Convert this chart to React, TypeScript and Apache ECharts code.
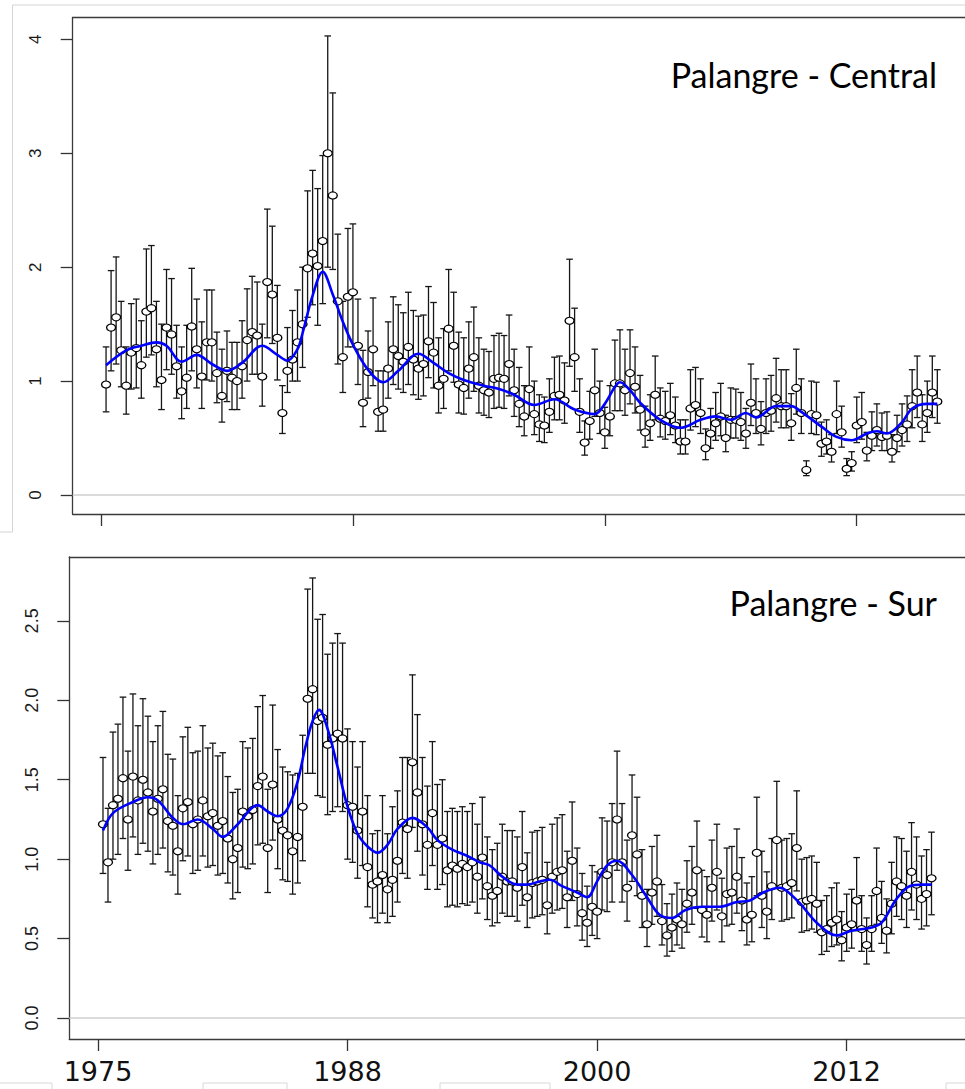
import React, { useEffect, useRef } from 'react';
import * as echarts from 'echarts';

// Axis ticks: quarter index (0 = 1975)
const xTickIndex = [0, 50, 100, 150];
const xTickLabels = ['1975', '1988', '2000', '2012'];
const topYTicks = [0, 1, 2, 3, 4];
const botYTicks = [0, 0.5, 1, 1.5, 2, 2.5];

const topTitle = 'Palangre - Central';
const botTitle = 'Palangre - Sur';

// ---------- Palangre - Central (index 1..166) ----------
const topVal = [
  0.97, 1.47, 1.56, 1.27, 0.96, 1.25, 1.29, 1.14, 1.61, 1.64,
  1.28, 1.01, 1.47, 1.41, 1.13, 0.91, 1.03, 1.48, 1.28, 1.04,
  1.34, 1.34, 1.07, 0.87, 1.09, 1.03, 1.00, 1.13, 1.36, 1.43,
  1.40, 1.04, 1.87, 1.76, 1.38, 0.72, 1.09, 1.19, 1.34, 1.50,
  1.99, 2.12, 2.01, 2.23, 3.00, 2.63, 1.70, 1.21, 1.74, 1.78,
  1.31, 0.81, 1.08, 1.28, 0.73, 0.75, 1.11, 1.28, 1.22, 1.17,
  1.30, 1.19, 1.11, 1.15, 1.35, 1.25, 0.96, 1.02, 1.46, 1.31,
  0.97, 0.94, 1.11, 1.21, 0.96, 0.92, 0.90, 1.02, 1.03, 1.02,
  1.15, 0.92, 0.80, 0.69, 0.93, 0.71, 0.62, 0.61, 0.73, 0.87,
  0.88, 0.83, 1.53, 1.21, 0.73, 0.46, 0.65, 0.92, 0.72, 0.55,
  0.69, 0.98, 0.98, 0.92, 1.07, 0.95, 0.75, 0.55, 0.63, 0.88,
  0.67, 0.65, 0.70, 0.61, 0.47, 0.47, 0.76, 0.79, 0.72, 0.41,
  0.54, 0.63, 0.69, 0.50, 0.66, 0.66, 0.64, 0.54, 0.81, 0.72,
  0.58, 0.72, 0.74, 0.85, 0.78, 0.78, 0.63, 0.94, 0.72, 0.22,
  0.71, 0.70, 0.45, 0.47, 0.38, 0.71, 0.55, 0.23, 0.28, 0.61,
  0.64, 0.39, 0.52, 0.57, 0.51, 0.52, 0.38, 0.50, 0.57, 0.62,
  0.78, 0.90, 0.62, 0.72, 0.90, 0.82,
];
const topHi = [
  1.30, 1.97, 2.09, 1.70, 1.30, 1.68, 1.72, 1.53, 2.16, 2.19,
  1.70, 1.50, 1.98, 1.90, 1.49, 1.30, 1.49, 1.99, 1.72, 1.52,
  1.80, 1.80, 1.43, 1.28, 1.44, 1.34, 1.34, 1.53, 1.81, 1.92,
  1.87, 1.50, 2.51, 2.36, 1.84, 0.96, 1.47, 1.62, 1.80, 2.00,
  2.67, 2.85, 2.69, 2.98, 4.03, 3.53, 2.29, 1.70, 2.34, 2.38,
  1.72, 1.27, 1.44, 1.73, 1.09, 1.09, 1.52, 1.74, 1.67, 1.60,
  1.78, 1.62, 1.57, 1.58, 1.83, 1.69, 1.38, 1.46, 1.98, 1.78,
  1.43, 1.38, 1.52, 1.65, 1.38, 1.28, 1.26, 1.40, 1.42, 1.40,
  1.58, 1.28, 1.12, 0.96, 1.30, 1.00, 0.88, 0.86, 1.02, 1.21,
  1.22, 1.16, 2.07, 1.64, 1.02, 0.65, 0.91, 1.28, 1.00, 0.77,
  0.96, 1.36, 1.45, 1.28, 1.45, 1.30, 1.05, 0.78, 0.88, 1.22,
  0.94, 0.91, 0.98, 0.86, 0.66, 0.66, 1.10, 1.12, 1.02, 0.58,
  0.76, 0.90, 0.98, 0.70, 0.94, 0.93, 0.90, 0.76, 1.15, 1.02,
  0.82, 1.02, 1.05, 1.20, 1.10, 1.10, 0.89, 1.28, 1.02, 0.30,
  1.00, 0.99, 0.64, 0.66, 0.53, 1.00, 0.78, 0.32, 0.38, 0.86,
  0.90, 0.55, 0.73, 0.80, 0.72, 0.73, 0.53, 0.70, 0.80, 0.87,
  1.10, 1.22, 0.88, 1.00, 1.22, 1.10,
];
const topLo = [
  0.73, 1.09, 1.15, 0.95, 0.71, 0.93, 0.94, 0.85, 1.21, 1.23,
  0.95, 0.75, 1.10, 1.06, 0.85, 0.67, 0.76, 1.09, 0.94, 0.76,
  1.01, 1.00, 0.81, 0.64, 0.82, 0.75, 0.75, 0.85, 1.00, 1.06,
  1.06, 0.78, 1.38, 1.33, 1.01, 0.54, 0.90, 1.00, 1.00, 1.12,
  1.56, 1.67, 1.49, 1.68, 2.00, 1.98, 1.15, 0.90, 1.30, 1.30,
  0.97, 0.60, 0.85, 0.96, 0.56, 0.56, 0.85, 0.97, 0.93, 0.90,
  0.97, 0.88, 0.84, 0.87, 1.03, 0.94, 0.72, 0.76, 1.09, 0.99,
  0.72, 0.71, 0.85, 0.91, 0.72, 0.70, 0.68, 0.76, 0.77, 0.76,
  0.87, 0.69, 0.60, 0.52, 0.70, 0.53, 0.47, 0.46, 0.55, 0.66,
  0.66, 0.63, 1.13, 0.91, 0.55, 0.35, 0.49, 0.69, 0.54, 0.41,
  0.52, 0.74, 0.74, 0.70, 0.80, 0.72, 0.57, 0.42, 0.48, 0.66,
  0.51, 0.49, 0.53, 0.46, 0.36, 0.36, 0.57, 0.60, 0.54, 0.31,
  0.41, 0.48, 0.52, 0.38, 0.50, 0.50, 0.48, 0.41, 0.61, 0.54,
  0.44, 0.54, 0.56, 0.64, 0.59, 0.59, 0.48, 0.71, 0.54, 0.17,
  0.54, 0.53, 0.34, 0.36, 0.29, 0.54, 0.42, 0.17, 0.21, 0.46,
  0.49, 0.30, 0.39, 0.43, 0.39, 0.39, 0.29, 0.38, 0.43, 0.47,
  0.59, 0.68, 0.47, 0.55, 0.68, 0.63,
];
const topTrendX = [1, 5, 8, 11, 13, 16, 19, 22, 25, 28, 32, 35, 37, 39, 40, 42, 44, 46, 48, 50, 53, 56, 59, 63, 66, 69, 72, 76, 79, 82, 86, 90, 94, 98, 100, 102, 103, 105, 107, 111, 115, 119, 122, 125, 128, 130, 134, 137, 139, 143, 146, 149, 152, 154, 156, 159, 161, 164, 166];
const topTrendY = [1.14, 1.27, 1.31, 1.34, 1.31, 1.17, 1.23, 1.15, 1.09, 1.16, 1.31, 1.23, 1.18, 1.28, 1.42, 1.75, 1.96, 1.76, 1.52, 1.32, 1.10, 0.99, 1.09, 1.24, 1.16, 1.07, 1.01, 0.96, 0.93, 0.88, 0.79, 0.84, 0.75, 0.71, 0.80, 0.95, 0.99, 0.92, 0.81, 0.66, 0.59, 0.66, 0.69, 0.66, 0.72, 0.68, 0.78, 0.78, 0.73, 0.60, 0.51, 0.48, 0.54, 0.56, 0.54, 0.64, 0.76, 0.80, 0.80];

// ---------- Palangre - Sur (index 1..167) ----------
const botVal = [
  1.22, 0.98, 1.34, 1.38, 1.51, 1.25, 1.52, 1.37, 1.50, 1.42,
  1.30, 1.38, 1.44, 1.24, 1.21, 1.05, 1.32, 1.36, 1.22, 1.25,
  1.37, 1.27, 1.29, 1.21, 1.24, 1.13, 1.00, 1.07, 1.30, 1.27,
  1.31, 1.46, 1.52, 1.07, 1.47, 1.25, 1.18, 1.15, 1.05, 1.14,
  1.33, 2.01, 2.07, 1.87, 1.89, 1.72, 1.76, 1.79, 1.76, 1.34,
  1.33, 1.18, 1.30, 0.95, 0.84, 0.86, 0.90, 0.81, 0.87, 0.99,
  1.23, 1.19, 1.61, 1.42, 1.22, 1.09, 1.29, 1.09, 1.13, 0.93,
  0.96, 0.94, 0.97, 0.95, 0.98, 0.89, 1.01, 0.83, 0.77, 0.80,
  0.89, 0.86, 0.86, 0.82, 0.95, 0.76, 0.85, 0.86, 0.87, 0.71,
  0.89, 0.92, 0.93, 0.76, 0.99, 0.78, 0.66, 0.60, 0.70, 0.67,
  0.92, 0.90, 0.98, 1.25, 0.98, 0.82, 1.15, 1.03, 0.77, 0.59,
  0.79, 0.86, 0.61, 0.52, 0.57, 0.62, 0.59, 0.72, 0.79, 0.93,
  0.68, 0.65, 0.82, 0.92, 0.64, 0.78, 0.79, 0.89, 0.74, 0.62,
  0.65, 1.04, 0.77, 0.67, 0.83, 1.12, 0.82, 0.83, 0.85, 1.07,
  0.73, 0.74, 0.75, 0.72, 0.54, 0.56, 0.60, 0.62, 0.49, 0.57,
  0.59, 0.74, 0.56, 0.46, 0.56, 0.80, 0.63, 0.55, 0.72, 0.86,
  0.83, 0.77, 0.92, 0.84, 0.75, 0.78, 0.88,
];
const botHi = [
  1.64, 1.32, 1.80, 1.85, 2.02, 1.68, 2.04, 1.84, 2.01, 1.90,
  1.74, 1.84, 1.93, 1.66, 1.63, 1.40, 1.77, 1.83, 1.67, 1.68,
  1.84, 1.70, 1.73, 1.65, 1.67, 1.52, 1.42, 1.44, 1.74, 1.70,
  1.76, 1.96, 2.03, 1.44, 1.97, 1.69, 1.58, 1.55, 1.53, 1.54,
  1.78, 2.70, 2.77, 2.51, 2.54, 2.29, 2.36, 2.42, 2.36, 1.82,
  1.74, 1.58, 1.74, 1.40, 1.16, 1.18, 1.40, 1.16, 1.33, 1.43,
  1.64, 1.64, 2.16, 1.91, 1.64, 1.46, 1.74, 1.47, 1.50, 1.30,
  1.32, 1.30, 1.33, 1.30, 1.35, 1.22, 1.39, 1.14, 1.06, 1.10,
  1.22, 1.18, 1.18, 1.14, 1.30, 1.04, 1.17, 1.18, 1.20, 0.98,
  1.22, 1.26, 1.28, 1.05, 1.36, 1.07, 0.91, 0.83, 0.96, 0.92,
  1.26, 1.24, 1.35, 1.68, 1.35, 1.12, 1.53, 1.39, 1.06, 0.81,
  1.08, 1.15, 0.84, 0.72, 0.78, 0.85, 0.81, 0.99, 1.08, 1.24,
  0.93, 0.89, 1.12, 1.22, 0.88, 1.07, 1.08, 1.19, 1.01, 0.85,
  0.89, 1.39, 1.05, 0.92, 1.13, 1.49, 1.12, 1.13, 1.16, 1.43,
  1.00, 1.01, 1.02, 0.98, 0.74, 0.77, 0.82, 0.85, 0.67, 0.78,
  0.81, 1.01, 0.77, 0.63, 0.77, 1.07, 0.86, 0.75, 0.98, 1.14,
  1.13, 1.05, 1.23, 1.14, 1.02, 1.06, 1.17,
];
const botLo = [
  0.91, 0.73, 1.00, 1.03, 1.13, 0.93, 1.14, 1.03, 1.10, 1.05,
  0.97, 1.03, 1.07, 0.92, 0.90, 0.78, 0.99, 1.02, 0.91, 0.93,
  1.02, 0.95, 0.96, 0.90, 0.91, 0.85, 0.75, 0.79, 0.95, 0.94,
  0.97, 1.09, 1.10, 0.79, 1.12, 0.94, 0.87, 0.86, 0.78, 0.85,
  0.99, 1.54, 1.54, 1.40, 1.39, 1.28, 1.30, 1.33, 1.30, 1.00,
  0.98, 0.88, 0.96, 0.70, 0.63, 0.60, 0.66, 0.60, 0.64, 0.73,
  0.91, 0.88, 1.20, 1.05, 0.90, 0.81, 0.96, 0.81, 0.84, 0.70,
  0.71, 0.70, 0.72, 0.71, 0.73, 0.66, 0.75, 0.62, 0.58, 0.60,
  0.66, 0.64, 0.64, 0.61, 0.71, 0.57, 0.63, 0.64, 0.65, 0.53,
  0.66, 0.68, 0.69, 0.57, 0.74, 0.58, 0.49, 0.45, 0.52, 0.50,
  0.68, 0.67, 0.73, 0.93, 0.73, 0.61, 0.86, 0.77, 0.57, 0.45,
  0.59, 0.64, 0.46, 0.39, 0.42, 0.46, 0.44, 0.54, 0.59, 0.69,
  0.51, 0.48, 0.61, 0.68, 0.48, 0.58, 0.59, 0.66, 0.55, 0.46,
  0.48, 0.77, 0.57, 0.50, 0.62, 0.83, 0.61, 0.62, 0.63, 0.80,
  0.54, 0.55, 0.56, 0.54, 0.40, 0.42, 0.45, 0.46, 0.36, 0.42,
  0.44, 0.55, 0.42, 0.34, 0.42, 0.59, 0.47, 0.41, 0.53, 0.64,
  0.62, 0.57, 0.68, 0.62, 0.56, 0.58, 0.65,
];
const botTrendX = [1, 3, 7, 10, 12, 15, 17, 20, 23, 25, 28, 32, 34, 36, 38, 40, 41.5, 43, 44.3, 46, 48, 50, 52, 54, 56, 58, 60, 63, 66, 68, 71, 74, 76.5, 78.5, 81, 84, 86, 88.5, 90.5, 93, 96, 98, 100, 102, 104, 107, 110, 112.5, 115, 117.7, 121, 124.5, 128, 130.6, 133.3, 136.6, 138, 140.7, 144, 148, 151, 155, 157, 160, 162.6, 165.3, 167];
const botTrendY = [1.18, 1.29, 1.36, 1.39, 1.37, 1.26, 1.22, 1.25, 1.19, 1.14, 1.22, 1.34, 1.30, 1.27, 1.32, 1.49, 1.70, 1.87, 1.94, 1.82, 1.58, 1.33, 1.16, 1.08, 1.04, 1.09, 1.19, 1.26, 1.20, 1.12, 1.06, 1.02, 0.98, 0.96, 0.89, 0.84, 0.84, 0.86, 0.87, 0.83, 0.79, 0.76, 0.86, 0.96, 0.99, 0.90, 0.76, 0.65, 0.63, 0.68, 0.70, 0.70, 0.73, 0.74, 0.79, 0.82, 0.80, 0.72, 0.60, 0.52, 0.55, 0.57, 0.60, 0.75, 0.83, 0.84, 0.84];

const points = (vals: number[]) => vals.map((v, k) => [k + 1, v]);
const bars = (lo: number[], hi: number[]) => lo.map((l, k) => [k + 1, l, hi[k]]);
const trend = (xs: number[], ys: number[]) => xs.map((x, k) => [x, ys[k]]);

const renderErr = (params: any, api: any) => {
  const x = api.value(0);
  const lo = api.coord([x, api.value(1)]);
  const hi = api.coord([x, api.value(2)]);
  const hw = 3.3;
  const st = { stroke: '#161616', lineWidth: 1.3 };
  return {
    type: 'group',
    children: [
      { type: 'line', shape: { x1: lo[0], y1: lo[1], x2: hi[0], y2: hi[1] }, style: st },
      { type: 'line', shape: { x1: lo[0] - hw, y1: lo[1], x2: lo[0] + hw, y2: lo[1] }, style: st },
      { type: 'line', shape: { x1: hi[0] - hw, y1: hi[1], x2: hi[0] + hw, y2: hi[1] }, style: st },
    ],
  };
};

const frameLine = { show: true, onZero: false, lineStyle: { color: '#3a3a3a', width: 1.3 } };
const tickStyle = { color: '#333', width: 1.3 };

function panelSeries(idx: number, val: number[], lo: number[], hi: number[], tx: number[], ty: number[]) {
  return [
    {
      type: 'custom',
      xAxisIndex: idx,
      yAxisIndex: idx,
      renderItem: renderErr,
      encode: { x: 0, y: [1, 2] },
      data: bars(lo, hi),
      z: 2,
      silent: true,
    },
    {
      type: 'scatter',
      xAxisIndex: idx,
      yAxisIndex: idx,
      data: points(val),
      symbol: 'circle',
      symbolSize: [9, 7],
      itemStyle: { color: '#ffffff', borderColor: '#000000', borderWidth: 1.2, opacity: 1 },
      z: 3,
      silent: true,
    },
    {
      type: 'line',
      xAxisIndex: idx,
      yAxisIndex: idx,
      data: trend(tx, ty),
      smooth: 0.35,
      showSymbol: false,
      symbol: 'none',
      lineStyle: { color: '#0000ff', width: 2.6 },
      z: 4,
      silent: true,
      markLine: {
        silent: true,
        symbol: ['none', 'none'],
        label: { show: false },
        lineStyle: { color: '#cfcfcf', width: 1.5, type: 'solid' },
        data: [{ yAxis: 0 }],
      },
    },
  ];
}

export default function App() {
  const ref = useRef<HTMLDivElement>(null);
  useEffect(() => {
    if (!ref.current) return;
    const chart = echarts.init(ref.current, null, { renderer: 'svg' });
    // top panel: x = 101 + 5.038*i, width 892.3 ; bottom: x = 98 + 4.991*i, width 895.7
    const option: any = {
      animation: false,
      backgroundColor: '#ffffff',
      grid: [
        { left: 72.7, top: 17.5, right: 0, bottom: 575, show: false },
        { left: 69.3, top: 557, right: 0, bottom: 50, show: false },
      ],
      xAxis: [
        {
          type: 'value', gridIndex: 0, min: -5.62, max: 171.49,
          axisLine: frameLine,
          axisTick: { show: true, customValues: xTickIndex, length: 12, inside: false, lineStyle: tickStyle },
          axisLabel: { show: false },
          splitLine: { show: false },
        },
        {
          type: 'value', gridIndex: 1, min: -5.75, max: 173.71,
          axisLine: frameLine,
          axisTick: { show: true, customValues: xTickIndex, length: 12, inside: false, lineStyle: tickStyle },
          axisLabel: {
            show: true, customValues: xTickIndex,
            formatter: (v: number) => xTickLabels[xTickIndex.indexOf(v)] ?? '',
            fontSize: 27, fontFamily: 'DejaVu Sans', color: '#111', margin: 19,
          },
          splitLine: { show: false },
        },
        {
          type: 'value', gridIndex: 0, position: 'top', min: 0, max: 1,
          axisLine: frameLine, axisTick: { show: false }, axisLabel: { show: false }, splitLine: { show: false },
        },
        {
          type: 'value', gridIndex: 1, position: 'top', min: 0, max: 1,
          axisLine: frameLine, axisTick: { show: false }, axisLabel: { show: false }, splitLine: { show: false },
        },
      ],
      yAxis: [
        {
          type: 'value', gridIndex: 0, min: -0.1668, max: 4.192,
          axisLine: frameLine,
          axisTick: { show: true, customValues: topYTicks, length: 12, inside: false, lineStyle: tickStyle },
          axisLabel: {
            show: true, customValues: topYTicks, rotate: 90, margin: 29,
            fontSize: 17, fontFamily: 'Liberation Sans, Arial, sans-serif', color: '#1a1a1a',
            formatter: (v: number) => String(v),
          },
          splitLine: { show: false },
        },
        {
          type: 'value', gridIndex: 1, min: -0.132, max: 2.902,
          axisLine: frameLine,
          axisTick: { show: true, customValues: botYTicks, length: 12, inside: false, lineStyle: tickStyle },
          axisLabel: {
            show: true, customValues: botYTicks, rotate: 90, margin: 28,
            fontSize: 18, fontFamily: 'Liberation Sans, Arial, sans-serif', color: '#1a1a1a',
            formatter: (v: number) => v.toFixed(1),
          },
          splitLine: { show: false },
        },
      ],
      graphic: [
        {
          type: 'polyline', silent: true,
          shape: { points: [[0, 532], [12.5, 532], [12.5, 5], [965, 5]] },
          style: { stroke: '#d4d4d4', lineWidth: 1, fill: 'none' },
        },
        { type: 'rect', silent: true, shape: { x: -1, y: 1083, width: 53, height: 10 }, style: { stroke: '#d8d8d8', fill: 'none', lineWidth: 1 } },
        { type: 'rect', silent: true, shape: { x: 203, y: 1083, width: 84, height: 10 }, style: { stroke: '#d8d8d8', fill: 'none', lineWidth: 1 } },
        { type: 'rect', silent: true, shape: { x: 440, y: 1083, width: 110, height: 10 }, style: { stroke: '#d8d8d8', fill: 'none', lineWidth: 1 } },
        { type: 'rect', silent: true, shape: { x: 946, y: 1083, width: 22, height: 10 }, style: { stroke: '#d8d8d8', fill: 'none', lineWidth: 1 } },
        {
          type: 'text', x: 937, y: 74, silent: true,
          style: { text: topTitle, fontSize: 34, fontFamily: 'Lato', fill: '#000', align: 'right', verticalAlign: 'middle' },
        },
        {
          type: 'text', x: 937, y: 602, silent: true,
          style: { text: botTitle, fontSize: 34, fontFamily: 'Lato', fill: '#000', align: 'right', verticalAlign: 'middle' },
        },
      ],
      series: [
        ...panelSeries(0, topVal, topLo, topHi, topTrendX, topTrendY),
        ...panelSeries(1, botVal, botLo, botHi, botTrendX, botTrendY),
      ],
    };
    chart.setOption(option);
    return () => chart.dispose();
  }, []);
  return (
    <div
      ref={ref}
      style={{ position: 'fixed', left: 0, top: 0, width: 965, height: 1089, background: '#ffffff' }}
    />
  );
}
